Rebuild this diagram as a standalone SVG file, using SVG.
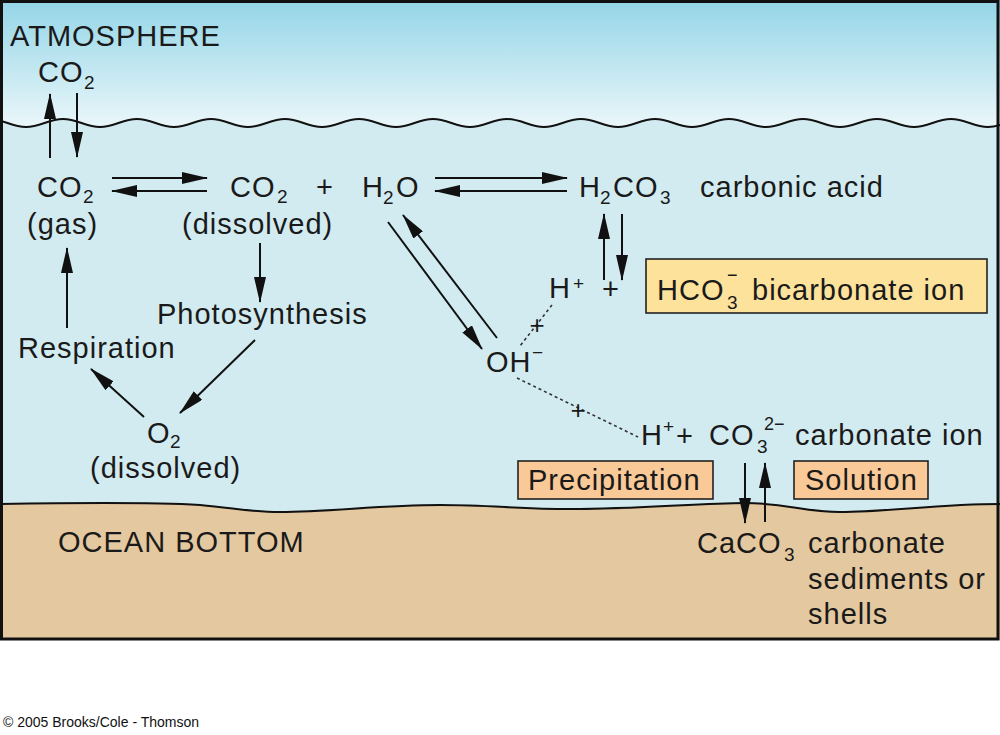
<svg xmlns="http://www.w3.org/2000/svg" width="1000" height="735" viewBox="0 0 1000 735">
<defs>
<linearGradient id="sky" x1="0" y1="0" x2="0" y2="1">
<stop offset="0" stop-color="#93d5e7"/>
<stop offset="1" stop-color="#f0f9fb"/>
</linearGradient>
<marker id="ah" markerUnits="userSpaceOnUse" markerWidth="26" markerHeight="12" viewBox="0 0 26 12" refX="25" refY="6" orient="auto">
<path d="M0,0 L26,6 L0,12 Z" fill="#111"/>
</marker>
<style>
.t{font-family:"Liberation Sans",Arial,sans-serif;font-size:29px;letter-spacing:1px;fill:#1a1a1a}
.s{font-size:19px;letter-spacing:0}
.sm{font-size:18px;letter-spacing:0}
.c{text-anchor:middle;letter-spacing:0}
.arr{stroke:#111;stroke-width:2;fill:none;marker-end:url(#ah)}
.dot{stroke:#333;stroke-width:1.6;fill:none;stroke-dasharray:3,3}
.box1{fill:#fde29c;stroke:#222;stroke-width:1.6}
.box2{fill:#f9c998;stroke:#222;stroke-width:1.6}
.edge{fill:none;stroke:#111;stroke-width:2}
</style>
</defs>
<rect x="0" y="0" width="1000" height="735" fill="#ffffff"/>
<g id="background">
<rect x="0" y="0" width="1000" height="135" fill="url(#sky)"/>
<path d="M-11,119 C3.5,119 11.5,127 26,127 S48.5,119 63,119 S85.5,127 100,127 S122.5,119 137,119 S159.5,127 174,127 S196.5,119 211,119 S233.5,127 248,127 S270.5,119 285,119 S307.5,127 322,127 S344.5,119 359,119 S381.5,127 396,127 S418.5,119 433,119 S455.5,127 470,127 S492.5,119 507,119 S529.5,127 544,127 S566.5,119 581,119 S603.5,127 618,127 S640.5,119 655,119 S677.5,127 692,127 S714.5,119 729,119 S751.5,127 766,127 S788.5,119 803,119 S825.5,127 840,127 S862.5,119 877,119 S899.5,127 914,127 S936.5,119 951,119 S973.5,127 988,127 S1010.5,119 1025,119 L1025,540 L-11,540 Z" fill="#d2ebf0"/>
<path d="M-11,119 C3.5,119 11.5,127 26,127 S48.5,119 63,119 S85.5,127 100,127 S122.5,119 137,119 S159.5,127 174,127 S196.5,119 211,119 S233.5,127 248,127 S270.5,119 285,119 S307.5,127 322,127 S344.5,119 359,119 S381.5,127 396,127 S418.5,119 433,119 S455.5,127 470,127 S492.5,119 507,119 S529.5,127 544,127 S566.5,119 581,119 S603.5,127 618,127 S640.5,119 655,119 S677.5,127 692,127 S714.5,119 729,119 S751.5,127 766,127 S788.5,119 803,119 S825.5,127 840,127 S862.5,119 877,119 S899.5,127 914,127 S936.5,119 951,119 S973.5,127 988,127 S1010.5,119 1025,119" class="edge"/>
<path d="M0,504 C60,503 150,502 200,505 C235,508 250,512 280,512 C330,512 380,505 440,505 C490,505 520,509 570,509 C640,509 700,503 745,503 C785,503 805,512 840,512 C885,512 940,504 1000,504 L1000,640 L0,640 Z" fill="#e4c89f"/>
<path d="M0,504 C60,503 150,502 200,505 C235,508 250,512 280,512 C330,512 380,505 440,505 C490,505 520,509 570,509 C640,509 700,503 745,503 C785,503 805,512 840,512 C885,512 940,504 1000,504" class="edge"/>
<rect x="1.5" y="1.5" width="996.5" height="637.5" fill="none" stroke="#111" stroke-width="3"/>
</g>
<g id="connectors">
<line x1="50" y1="158" x2="50" y2="94" class="arr"/>
<line x1="77" y1="93" x2="77" y2="157" class="arr"/>
<line x1="112" y1="178" x2="207" y2="178" class="arr"/>
<line x1="207" y1="191" x2="112" y2="191" class="arr"/>
<line x1="435" y1="178" x2="567" y2="178" class="arr"/>
<line x1="567" y1="191" x2="435" y2="191" class="arr"/>
<line x1="604" y1="280" x2="604" y2="214" class="arr"/>
<line x1="622" y1="214" x2="622" y2="280" class="arr"/>
<line x1="388" y1="222" x2="482" y2="349" class="arr"/>
<line x1="497" y1="338" x2="403" y2="215" class="arr"/>
<line x1="260" y1="243" x2="260" y2="302" class="arr"/>
<line x1="255" y1="340" x2="180" y2="413" class="arr"/>
<line x1="144" y1="417" x2="91" y2="369" class="arr"/>
<line x1="67" y1="328" x2="67" y2="248" class="arr"/>
<line x1="745" y1="463" x2="745" y2="523" class="arr"/>
<line x1="765" y1="522" x2="765" y2="463" class="arr"/>
<line x1="552" y1="305" x2="520" y2="346" class="dot"/>
<line x1="517" y1="378" x2="638" y2="437" class="dot"/>
<text x="537" y="334" class="t c" style="font-size:26px">+</text>
<text x="578" y="419" class="t c" style="font-size:26px">+</text>
</g>
<g id="atmosphere"><text x="10" y="46" class="t">ATMOSPHERE</text></g>
<g id="co2-atm"><text class="t"><tspan x="38" y="82">CO</tspan><tspan x="84" y="89" class="s">2</tspan></text></g>
<g id="co2-gas"><text class="t"><tspan x="37" y="197">CO</tspan><tspan x="83" y="203" class="s">2</tspan><tspan x="27" y="234">(gas)</tspan></text></g>
<g id="co2-dissolved"><text class="t"><tspan x="230" y="197">CO</tspan><tspan x="277" y="203" class="s">2</tspan><tspan x="316" y="197">+</tspan><tspan x="182" y="234">(dissolved)</tspan></text></g>
<g id="h2o"><text class="t"><tspan x="362" y="197">H</tspan><tspan x="383" y="204" class="s">2</tspan><tspan x="396" y="197">O</tspan></text></g>
<g id="h2co3"><text class="t"><tspan x="579" y="197">H</tspan><tspan x="600" y="204" class="s">2</tspan><tspan x="613" y="197">CO</tspan><tspan x="660" y="204" class="s">3</tspan><tspan x="700" y="197">carbonic acid</tspan></text></g>
<g id="h-plus"><text class="t"><tspan x="549" y="298">H</tspan><tspan x="573" y="290" class="s">+</tspan><tspan x="602" y="299">+</tspan></text></g>
<g id="hco3">
<rect x="646" y="259" width="341" height="54" class="box1"/>
<text class="t"><tspan x="657" y="300">HCO</tspan><tspan x="727" y="309" class="s">3</tspan><tspan x="727" y="281" class="sm">−</tspan><tspan x="752" y="300">bicarbonate ion</tspan></text>
</g>
<g id="oh"><text class="t"><tspan x="486" y="372">OH</tspan><tspan x="532" y="359" class="s">−</tspan></text></g>
<g id="co3"><text class="t"><tspan x="641" y="445">H</tspan><tspan x="663" y="433" class="s">+</tspan><tspan x="676" y="446">+</tspan><tspan x="709" y="445">CO</tspan><tspan x="757" y="453" class="s">3</tspan><tspan x="764" y="430" class="sm">2−</tspan><tspan x="795" y="445">carbonate ion</tspan></text></g>
<g id="precipitation"><rect x="518" y="461" width="195" height="38" class="box2"/><text x="528" y="490" class="t">Precipitation</text></g>
<g id="solution"><rect x="794" y="461" width="134" height="38" class="box2"/><text x="805" y="490" class="t">Solution</text></g>
<g id="caco3"><text class="t"><tspan x="697" y="553">CaCO</tspan><tspan x="784" y="561" class="s">3</tspan><tspan x="808" y="553">carbonate</tspan><tspan x="808" y="589">sediments or</tspan><tspan x="808" y="624">shells</tspan></text></g>
<g id="photosynthesis"><text x="157" y="324" class="t">Photosynthesis</text></g>
<g id="respiration"><text x="18" y="358" class="t">Respiration</text></g>
<g id="o2"><text class="t"><tspan x="147" y="443">O</tspan><tspan x="170" y="448" class="s">2</tspan><tspan x="90" y="478">(dissolved)</tspan></text></g>
<g id="ocean-bottom"><text x="58" y="552" class="t">OCEAN BOTTOM</text></g>
<g id="copyright"><text x="3" y="727" style="font-family:'Liberation Sans',Arial,sans-serif;font-size:14px;fill:#111">© 2005 Brooks/Cole - Thomson</text></g>
</svg>
